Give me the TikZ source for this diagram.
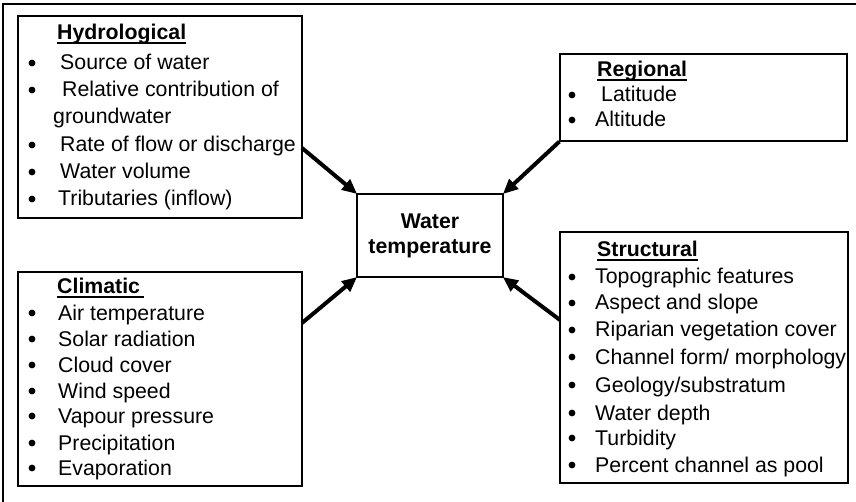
\documentclass[tikz,border=0pt]{standalone}
\usepackage{fontspec}
\setmainfont{Liberation Sans}
\usetikzlibrary{arrows.meta}
\tikzset{
  txt/.style={anchor=base west, inner sep=0pt, font=\fontsize{21.3}{25}\selectfont},
  ttl/.style={txt, font=\fontsize{21.3}{25}\selectfont\bfseries},
  panel/.style={draw, line width=1.3pt, inner sep=0pt},
  ul/.style={line width=2pt},
  bul/.style={fill=black},
  infl/.style={line width=4pt, -{Triangle[length=15pt,width=13pt]}, shorten >=-1pt}
}
\begin{document}
\begin{tikzpicture}[x=1pt,y=-1pt]
\useasboundingbox (0,0) rectangle (856,502);
% outer frame (only top and left visible)
\draw[line width=1.2pt] (3,502) -- (3,4) -- (856,4);
% panels
\node[panel, minimum width=284pt, minimum height=202pt] (hyd) at (160,117) {};
\node[panel, minimum width=287pt, minimum height=87pt] (reg) at (703.5,97.5) {};
\node[panel, minimum width=146pt, minimum height=83pt] (wt) at (430,235.5) {};
\node[panel, minimum width=284pt, minimum height=214pt] (cli) at (160,379) {};
\node[panel, minimum width=288pt, minimum height=251pt] (str) at (704,357.5) {};
% centre text
\node[font=\fontsize{21.3}{25}\selectfont\bfseries, align=center, inner sep=0pt] (wtt) at (wt.center) {Water\\temperature};
% Hydrological
\node[ttl] (h0) at (57,40) {Hydrological};
\draw[ul] ([yshift=-3pt]h0.base west) -- ([yshift=-3pt]h0.base east);
\node[txt] (h1) at (60,70) {Source of water};
\node[txt] (h2) at (62,97) {Relative contribution of};
\node[txt] (h3) at (53,124) {groundwater};
\node[txt] (h4) at (60,152) {Rate of flow or discharge};
\node[txt] (h5) at (60,179) {Water volume};
\node[txt] (h6) at (58,206) {Tributaries (inflow)};
\foreach \y in {63,90,145,172,199} \fill[bul] (32,\y) circle (3.4);
% Regional
\node[ttl] (r0) at (597,77) {Regional};
\draw[ul] ([yshift=-3pt]r0.base west) -- ([yshift=-3pt]r0.base east);
\node[txt] (r1) at (601,102) {Latitude};
\node[txt] (r2) at (595,127) {Altitude};
\foreach \y in {95,120} \fill[bul] (572,\y) circle (3.4);
% Climatic
\node[ttl] (c0) at (57,294) {Climatic\,};
\draw[ul] ([yshift=-3pt]c0.base west) -- ([yshift=-3pt]c0.base east);
\node[txt] (c1) at (58,320) {Air temperature};
\node[txt] (c2) at (58,346) {Solar radiation};
\node[txt] (c3) at (58,372) {Cloud cover};
\node[txt] (c4) at (58,398) {Wind speed};
\node[txt] (c5) at (58,423) {Vapour pressure};
\node[txt] (c6) at (58,450) {Precipitation};
\node[txt] (c7) at (58,475) {Evaporation};
\foreach \y in {313,339,365,391,416,443,468} \fill[bul] (32,\y) circle (3.4);
% Structural
\node[ttl] (s0) at (597,257) {Structural};
\draw[ul] ([yshift=-3pt]s0.base west) -- ([yshift=-3pt]s0.base east);
\node[txt] (s1) at (595,284) {Topographic features};
\node[txt] (s2) at (595,310) {Aspect and slope};
\node[txt] (s3) at (595,337) {Riparian vegetation cover};
\node[txt] (s4) at (595,364) {Channel form/ morphology};
\node[txt] (s5) at (595,392) {Geology/substratum};
\node[txt] (s6) at (595,420) {Water depth};
\node[txt] (s7) at (595,445) {Turbidity};
\node[txt] (s8) at (595,472) {Percent channel as pool};
\foreach \y in {277,303,330,357,385,413,438,465} \fill[bul] (572,\y) circle (3.4);
% connectors
\coordinate (ha) at (302,148);
\coordinate (ca) at (302,323);
\coordinate (sa) at (560,320);
\draw[infl] (ha) -- (wt.north west);
\draw[infl] (reg.south west) -- (wt.north east);
\draw[infl] (ca) -- (wt.south west);
\draw[infl] (sa) -- (wt.south east);
\end{tikzpicture}
\end{document}
